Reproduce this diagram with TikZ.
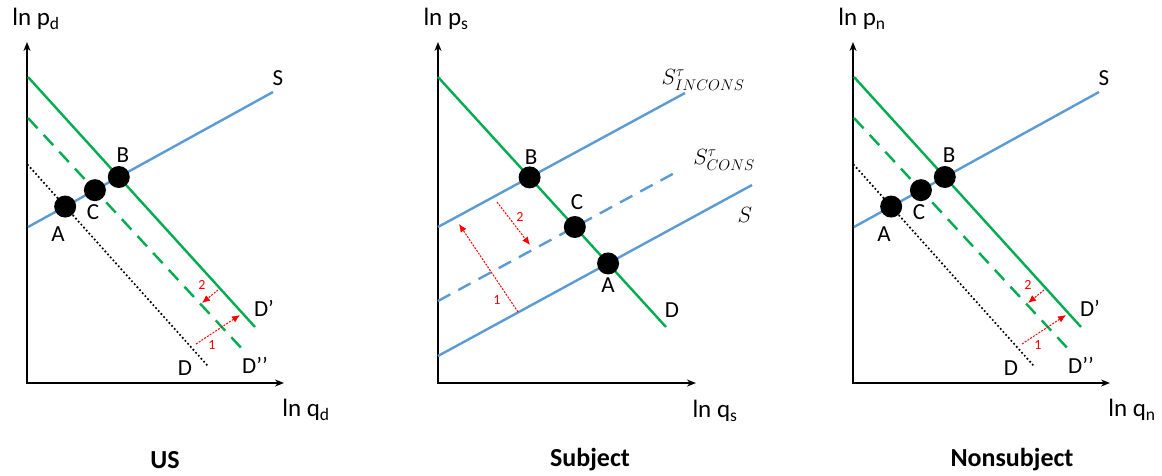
\documentclass[tikz,border=0pt]{standalone}
\usepackage{fix-cm}
\usepackage{fontspec}
\setmainfont{Carlito}
\usetikzlibrary{arrows.meta}
\definecolor{supblue}{RGB}{91,155,213}
\definecolor{demgreen}{RGB}{0,172,80}

\begin{document}
\begin{tikzpicture}[x=1pt, y=-1pt,
  axis/.style={line width=2.2pt, line join=miter, {Stealth[length=9pt, width=7pt]}-{Stealth[length=9pt, width=7pt]}},
  supply/.style={supblue, line width=2.4pt},
  demand/.style={demgreen, line width=2.4pt},
  dashline/.style={dash pattern=on 14pt off 9pt},
  olddemand/.style={black, line width=2.4pt, line cap=round, dash pattern=on 0pt off 4pt},
  shiftarrow/.style={red, line width=1pt, dash pattern=on 2pt off 1.3pt, -{Latex[length=8pt, width=7pt]}},
  dot/.style={circle, fill=black, minimum size=22pt, inner sep=0pt},
  lbl/.style={font=\fontsize{23}{27}\selectfont, inner sep=0pt},
  mlbl/.style={font=\fontsize{22}{26}\selectfont, inner sep=0pt},
  axlbl/.style={font=\fontsize{25}{29}\selectfont, inner sep=0pt},
  num/.style={red, font=\fontsize{14}{16}\selectfont, inner sep=0pt},
  title/.style={font=\fontsize{26}{30}\selectfont\bfseries, inner sep=0pt}]
  \useasboundingbox (0,0) rectangle (1162,475);

  \foreach \dx/\sub/\name/\tx in {0/d/US/165, 826/n/Nonsubject/186} {
    \begin{scope}[xshift=\dx]
      \coordinate (ytop\sub) at (27,42);
      \coordinate (o\sub) at (27,383);
      \coordinate (xend\sub) at (284,383);
      \coordinate (dpa\sub) at (28,77);
      \coordinate (dpb\sub) at (255,327);
      \coordinate (dppa\sub) at (28,118);
      \coordinate (dppb\sub) at (245,352);
      \coordinate (da\sub) at (28,165);
      \coordinate (db\sub) at (207,365);
      \coordinate (sa\sub) at (28,227);
      \coordinate (sb\sub) at (273,92);
      \coordinate (ra\sub) at (196,344);
      \coordinate (rb\sub) at (240,315);
      \coordinate (rc\sub) at (218,290);
      \coordinate (rd\sub) at (202,303);
      \draw[axis] (ytop\sub) -- (o\sub) -- (xend\sub);
      \draw[olddemand] (da\sub) -- (db\sub);
      \draw[demand, dashline] (dppa\sub) -- (dppb\sub);
      \draw[demand] (dpa\sub) -- (dpb\sub);
      \draw[supply] (sa\sub) -- (sb\sub);
      \node[dot] (A\sub) at (intersection cs: first line={(sa\sub)--(sb\sub)}, second line={(da\sub)--(db\sub)}) {};
      \node[dot] (C\sub) at (intersection cs: first line={(sa\sub)--(sb\sub)}, second line={(dppa\sub)--(dppb\sub)}) {};
      \node[dot] (B\sub) at (intersection cs: first line={(sa\sub)--(sb\sub)}, second line={(dpa\sub)--(dpb\sub)}) {};
      \draw[shiftarrow] (ra\sub) -- (rb\sub);
      \draw[shiftarrow] (rc\sub) -- (rd\sub);
      \node[lbl] (Alab\sub) at (58,234) {A};
      \node[lbl] (Clab\sub) at (93,212) {C};
      \node[lbl] (Blab\sub) at (123,155) {B};
      \node[lbl] (Slab\sub) at (278,78) {S};
      \node[lbl] (Dplab\sub) at (264,308) {D’};
      \node[lbl] (Dpplab\sub) at (255,365) {D’’};
      \node[lbl] (Dlab\sub) at (185,368) {D};
      \node[num] (one\sub) at (212,345) {1};
      \node[num] (two\sub) at (202,285) {2};
      \node[axlbl] (ylab\sub) at (36,19) {ln p\textsubscript{\sub}};
      \node[axlbl] (xlab\sub) at (306,410) {ln q\textsubscript{\sub}};
      \node[title] (title\sub) at (\tx,460) {\name};
    \end{scope}
  }

  \coordinate (ytops) at (438,42);
  \coordinate (os) at (438,383);
  \coordinate (xends) at (696,383);
  \coordinate (da) at (438,77);
  \coordinate (db) at (666,327);
  \coordinate (ia) at (438,227);
  \coordinate (ib) at (685,93);
  \coordinate (ca) at (438,301);
  \coordinate (cb) at (680,170);
  \coordinate (sa) at (438,356);
  \coordinate (sb) at (752,185);
  \coordinate (ra) at (518,312);
  \coordinate (rb) at (459,224);
  \coordinate (rc) at (497,202);
  \coordinate (rd) at (530,245);
  \draw[axis] (ytops) -- (os) -- (xends);
  \draw[supply] (ia) -- (ib);
  \draw[supply, dashline] (ca) -- (cb);
  \draw[supply] (sa) -- (sb);
  \draw[demand] (da) -- (db);
  \node[dot] (Bs) at (intersection cs: first line={(da)--(db)}, second line={(ia)--(ib)}) {};
  \node[dot] (Cs) at (intersection cs: first line={(da)--(db)}, second line={(ca)--(cb)}) {};
  \node[dot] (As) at (intersection cs: first line={(da)--(db)}, second line={(sa)--(sb)}) {};
  \draw[shiftarrow] (ra) -- (rb);
  \draw[shiftarrow] (rc) -- (rd);
  \node[lbl] (Blabs) at (531,157) {B};
  \node[lbl] (Clabs) at (577,202) {C};
  \node[lbl] (Alabs) at (608,285) {A};
  \node[lbl] (Dlabs) at (672,310) {D};
  \node[mlbl] (inconslab) at (703,80) {$S^{\tau}_{INCONS}$};
  \node[mlbl] (conslab) at (724,160) {$S^{\tau}_{CONS}$};
  \node[mlbl] (slabs) at (745,215) {$S$};
  \node[num] (ones) at (497,300) {1};
  \node[num] (twos) at (520,217) {2};
  \node[axlbl] (ylabs) at (446,19) {ln p\textsubscript{s}};
  \node[axlbl] (xlabs) at (715,411) {ln q\textsubscript{s}};
  \node[title] (titles) at (590,460) {Subject};
\end{tikzpicture}
\end{document}
